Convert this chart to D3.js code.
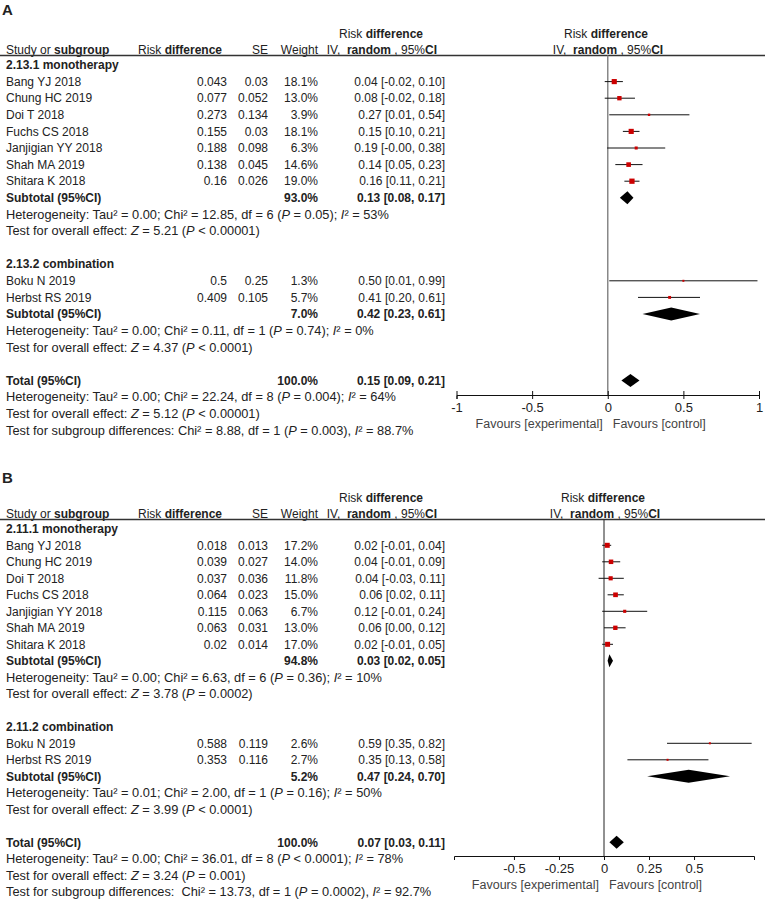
<!DOCTYPE html>
<html>
<head>
<meta charset="utf-8">
<script src="https://cdn.jsdelivr.net/npm/d3@7/dist/d3.min.js"></script>
<style>
  body { margin: 0; background: #fff; }
  text { font-family: "Liberation Sans", Arial, sans-serif; fill: #222; }
</style>
</head>
<body>
<div id="chart"></div>
<script>
// Panel A - datos
const aStudy = ["Bang YJ 2018", "Chung HC 2019", "Doi T 2018", "Fuchs CS 2018", "Janjigian YY 2018", "Shah MA 2019", "Shitara K 2018", "Boku N 2019", "Herbst RS 2019"];
const aGroupOf = [0, 0, 0, 0, 0, 0, 0, 1, 1];
const aRd = [0.043, 0.077, 0.273, 0.155, 0.188, 0.138, 0.16, 0.5, 0.409];
const aSe = [0.03, 0.052, 0.134, 0.03, 0.098, 0.045, 0.026, 0.25, 0.105];
const aWeight = [18.1, 13.0, 3.9, 18.1, 6.3, 14.6, 19.0, 1.3, 5.7];
const aLo = [-0.02, -0.02, 0.01, 0.10, -0.004, 0.05, 0.11, 0.01, 0.20];
const aHi = [0.10, 0.18, 0.54, 0.21, 0.38, 0.23, 0.21, 0.99, 0.61];
const aGroups = ["2.13.1 monotherapy", "2.13.2 combination"];
const aSubWeight = [93.0, 7.0];
const aSubEst = [0.13, 0.42];
const aSubLo = [0.08, 0.23];
const aSubHi = [0.17, 0.61];
const aSubHet = ["Heterogeneity: Tau² = 0.00; Chi² = 12.85, df = 6 (*P* = 0.05); *I*² = 53%",
                 "Heterogeneity: Tau² = 0.00; Chi² = 0.11, df = 1 (*P* = 0.74); *I*² = 0%"];
const aSubTest = ["Test for overall effect: *Z* = 5.21 (*P* < 0.00001)",
                  "Test for overall effect: *Z* = 4.37 (*P* < 0.0001)"];
const aTotal = [100.0, 0.15, 0.09, 0.21];
const aTotalText = ["Heterogeneity: Tau² = 0.00; Chi² = 22.24, df = 8 (*P* = 0.004); *I*² = 64%",
                    "Test for overall effect: *Z* = 5.12 (*P* < 0.00001)",
                    "Test for subgroup differences: Chi² = 8.88, df = 1 (*P* = 0.003), *I*² = 88.7%"];
const aTicks = [-1, -0.5, 0, 0.5, 1];

// Panel B - datos
const bStudy = ["Bang YJ 2018", "Chung HC 2019", "Doi T 2018", "Fuchs CS 2018", "Janjigian YY 2018", "Shah MA 2019", "Shitara K 2018", "Boku N 2019", "Herbst RS 2019"];
const bGroupOf = [0, 0, 0, 0, 0, 0, 0, 1, 1];
const bRd = [0.018, 0.039, 0.037, 0.064, 0.115, 0.063, 0.02, 0.588, 0.353];
const bSe = [0.013, 0.027, 0.036, 0.023, 0.063, 0.031, 0.014, 0.119, 0.116];
const bWeight = [17.2, 14.0, 11.8, 15.0, 6.7, 13.0, 17.0, 2.6, 2.7];
const bLo = [-0.01, -0.01, -0.03, 0.02, -0.01, 0.00, -0.01, 0.35, 0.13];
const bHi = [0.04, 0.09, 0.11, 0.11, 0.24, 0.12, 0.05, 0.82, 0.58];
const bGroups = ["2.11.1 monotherapy", "2.11.2 combination"];
const bSubWeight = [94.8, 5.2];
const bSubEst = [0.03, 0.47];
const bSubLo = [0.02, 0.24];
const bSubHi = [0.05, 0.70];
const bSubHet = ["Heterogeneity: Tau² = 0.00; Chi² = 6.63, df = 6 (*P* = 0.36); *I*² = 10%",
                 "Heterogeneity: Tau² = 0.01; Chi² = 2.00, df = 1 (*P* = 0.16); *I*² = 50%"];
const bSubTest = ["Test for overall effect: *Z* = 3.78 (*P* = 0.0002)",
                  "Test for overall effect: *Z* = 3.99 (*P* < 0.0001)"];
const bTotal = [100.0, 0.07, 0.03, 0.11];
const bTotalText = ["Heterogeneity: Tau² = 0.00; Chi² = 36.01, df = 8 (*P* < 0.0001); *I*² = 78%",
                    "Test for overall effect: *Z* = 3.24 (*P* = 0.001)",
                    "Test for subgroup differences:  Chi² = 13.73, df = 1 (*P* = 0.0002), *I*² = 92.7%"];
const bTicks = [-0.5, -0.25, 0, 0.25, 0.5];

const W = 765, H = 905;
const svg = d3.select("#chart").append("svg").attr("width", W).attr("height", H);

const ci = (e, l, h) => `${e.toFixed(2)} [${l.toFixed(2)}, ${h.toFixed(2)}]`;

// texto con partes en cursiva marcadas con *...*
function richText(g, str, x, y) {
  let t = g.append("text").attr("x", x).attr("y", y).attr("dy", "0.35em")
    .style("font-size", "12.8px").style("white-space", "pre");
  str.split("*").forEach((s, i) => {
    t.append("tspan").text(s).style("font-style", i % 2 ? "italic" : "normal");
  });
  return t;
}

function cell(g, x, y, txt, anchor, bold) {
  return g.append("text").attr("x", x).attr("y", y).attr("dy", "0.35em")
    .attr("text-anchor", anchor || "start").style("font-size", "12px")
    .style("font-weight", bold ? "bold" : "normal").text(txt);
}

function diamond(g, xs, e, l, h, y) {
  let pts = [[xs(l), y], [xs(e), y - 6.5], [xs(h), y], [xs(e), y + 6.5]];
  g.append("path").attr("d", d3.line()(pts) + "Z").attr("fill", "#000");
}

function drawPanel(p) {
  let g = svg.append("g");
  let xs = d3.scaleLinear().domain(p.domain).range(p.range);
  let yRow = k => p.base + p.step * k;
  let sq = d3.scaleSqrt().domain([0, 20]).range([0, 5.4]);

  // letra del panel
  g.append("text").attr("x", 2).attr("y", p.labelY).attr("dy", "0.35em")
    .style("font-size", "15px").style("font-weight", "bold").text(p.label);

  // cabeceras
  [381, p.plotHeadX].forEach(x => {
    let t = g.append("text").attr("x", x).attr("y", p.h1Y).attr("dy", "0.35em")
      .attr("text-anchor", "middle").style("font-size", "12px");
    t.append("tspan").text("Risk ");
    t.append("tspan").style("font-weight", "bold").text("difference");
  });

  let s1 = g.append("text").attr("x", 6).attr("y", p.h2Y).attr("dy", "0.35em").style("font-size", "12px");
  s1.append("tspan").text("Study or ");
  s1.append("tspan").style("font-weight", "bold").text("subgroup");
  let s2 = g.append("text").attr("x", 138).attr("y", p.h2Y).attr("dy", "0.35em").style("font-size", "12px");
  s2.append("tspan").text("Risk ");
  s2.append("tspan").style("font-weight", "bold").text("difference");
  cell(g, 268, p.h2Y, "SE", "end");
  cell(g, 318, p.h2Y, "Weight", "end");
  [[437, "end"], [p.plotHeadX + 2, "middle"]].forEach(([x, a]) => {
    let t = g.append("text").attr("x", x).attr("y", p.h2Y).attr("dy", "0.35em")
      .attr("text-anchor", a).style("font-size", "12px").style("white-space", "pre");
    t.append("tspan").text("IV,  ");
    t.append("tspan").style("font-weight", "bold").text("random");
    t.append("tspan").text(" , 95%");
    t.append("tspan").style("font-weight", "bold").text("CI");
  });
  g.append("line").attr("x1", 0).attr("x2", W).attr("y1", p.lineY).attr("y2", p.lineY)
    .attr("stroke", "#333").attr("stroke-width", 1.5);

  // linea de efecto nulo
  g.append("line").attr("x1", xs(0)).attr("x2", xs(0)).attr("y1", p.lineY).attr("y2", p.axisY)
    .attr("stroke", p.zeroColor).attr("stroke-width", p.zeroWidth);

  let k = 0;
  p.groups.forEach((gname, gi) => {
    cell(g, 6, yRow(k), gname, "start", true);
    k++;
    p.study.forEach((s, i) => {
      if (p.groupOf[i] !== gi) return;
      let y = yRow(k);
      cell(g, 6, y, s);
      cell(g, 227, y, String(p.rd[i]), "end");
      cell(g, 268, y, String(p.se[i]), "end");
      cell(g, 318, y, p.weight[i].toFixed(1) + "%", "end");
      cell(g, 445, y, ci(p.rd[i], p.lo[i], p.hi[i]), "end");
      g.append("line").attr("x1", xs(p.lo[i])).attr("x2", xs(p.hi[i])).attr("y1", y).attr("y2", y)
        .attr("stroke", "#111").attr("stroke-width", 1);
      let sz = Math.max(2, sq(p.weight[i]));
      g.append("rect").attr("x", xs(p.rd[i]) - sz / 2).attr("y", y - sz / 2)
        .attr("width", sz).attr("height", sz).attr("fill", "#cc0000");
      k++;
    });
    let y = yRow(k);
    cell(g, 6, y, "Subtotal (95%CI)", "start", true);
    cell(g, 318, y, p.subWeight[gi].toFixed(1) + "%", "end", true);
    cell(g, 445, y, ci(p.subEst[gi], p.subLo[gi], p.subHi[gi]), "end", true);
    diamond(g, xs, p.subEst[gi], p.subLo[gi], p.subHi[gi], y);
    k++;
    richText(g, p.subHet[gi], 6, yRow(k)); k++;
    richText(g, p.subTest[gi], 6, yRow(k)); k++;
    k++;
  });

  let y = yRow(k);
  cell(g, 6, y, "Total (95%CI)", "start", true);
  cell(g, 318, y, p.total[0].toFixed(1) + "%", "end", true);
  cell(g, 445, y, ci(p.total[1], p.total[2], p.total[3]), "end", true);
  diamond(g, xs, p.total[1], p.total[2], p.total[3], y);
  k++;
  p.totalText.forEach(t => { richText(g, t, 6, yRow(k)); k++; });

  // eje X
  let ax = g.append("g").attr("transform", `translate(0,${p.axisY})`)
    .call(d3.axisBottom(xs).tickValues(p.ticks).tickFormat(d => String(d))
      .tickSizeOuter(0).tickSize(p.tickDown).tickPadding(4));
  ax.select(".domain").attr("stroke", "#111");
  ax.selectAll(".tick line").attr("stroke", "#111").attr("y1", -p.tickUp);
  ax.selectAll(".tick text").style("font-size", "13px").style("font-family", '"Liberation Sans", Arial, sans-serif')
    .attr("fill", "#333");
  g.append("text").attr("x", xs(0) - 5).attr("y", p.axisY + 29).attr("dy", "0.35em")
    .attr("text-anchor", "end").style("font-size", "12.5px").style("fill", "#444").text("Favours [experimental]");
  g.append("text").attr("x", xs(0) + 5).attr("y", p.axisY + 29).attr("dy", "0.35em")
    .style("font-size", "12.5px").style("fill", "#444").text("Favours [control]");
}

drawPanel({
  label: "A", labelY: 10, h1Y: 34, h2Y: 50, lineY: 55.5, base: 65, step: 16.6, axisY: 395,
  plotHeadX: 606, domain: [-1, 1], range: [456.5, 759], ticks: aTicks,
  zeroColor: "#888", zeroWidth: 1.5, tickDown: 4, tickUp: 4,
  study: aStudy, groupOf: aGroupOf, rd: aRd, se: aSe, weight: aWeight, lo: aLo, hi: aHi,
  groups: aGroups, subWeight: aSubWeight, subEst: aSubEst, subLo: aSubLo, subHi: aSubHi,
  subHet: aSubHet, subTest: aSubTest, total: aTotal, totalText: aTotalText
});

drawPanel({
  label: "B", labelY: 478, h1Y: 498, h2Y: 514, lineY: 519.5, base: 528.8, step: 16.5, axisY: 856,
  plotHeadX: 603, domain: [-0.833, 0.833], range: [454, 754], ticks: bTicks,
  zeroColor: "#222", zeroWidth: 1, tickDown: 4, tickUp: 0,
  study: bStudy, groupOf: bGroupOf, rd: bRd, se: bSe, weight: bWeight, lo: bLo, hi: bHi,
  groups: bGroups, subWeight: bSubWeight, subEst: bSubEst, subLo: bSubLo, subHi: bSubHi,
  subHet: bSubHet, subTest: bSubTest, total: bTotal, totalText: bTotalText
});
</script>
</body>
</html>
